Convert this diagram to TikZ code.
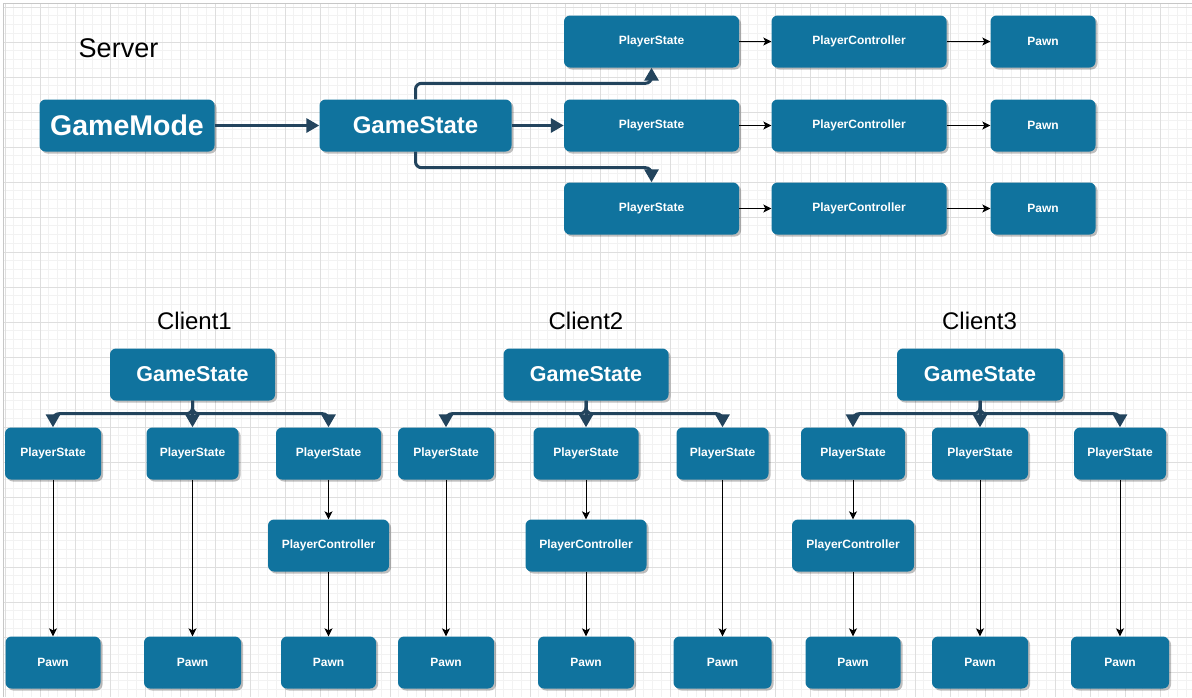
\documentclass[tikz,border=0pt]{standalone}
\usepackage{fontspec}
\setmainfont{Liberation Sans}
\usetikzlibrary{arrows.meta,shadows}

\definecolor{boxblue}{HTML}{10739E}
\definecolor{linkdark}{HTML}{23445D}
\definecolor{minorgrid}{HTML}{F2F2F2}
\definecolor{majorgrid}{HTML}{DEDEDE}

\begin{document}
\begin{tikzpicture}[x=1pt,y=-1pt]


\tikzstyle{block}=[shape=rectangle, rounded corners=6pt,
    fill=boxblue, text=white, align=center,
    minimum height=52pt, inner sep=0pt,
    font=\fontsize{12}{14}\selectfont\bfseries,
    drop shadow={shadow xshift=2pt, shadow yshift=-2pt, fill=black, opacity=0.25}]
\tikzstyle{title}=[anchor=base, font=\fontsize{24}{28}\selectfont]
\tikzstyle{link}=[->, >={Stealth[length=8pt,width=8pt,inset=2pt]}, line width=1pt, black]
\tikzstyle{mainlink}=[->, >={Triangle[length=13pt,width=14pt]}, line width=3pt,
    linkdark, rounded corners=6pt]

  % background grid
  \useasboundingbox (0,0) rectangle (1192,697);
  \fill[white] (0,0) rectangle (1192,697);
  \foreach \gx in {5,13.75,...,1192} \draw[minorgrid, line width=0.7pt] (\gx,3) -- (\gx,697);
  \foreach \gy in {7,15.75,...,697} \draw[minorgrid, line width=0.7pt] (3,\gy) -- (1192,\gy);
  \foreach \gx in {5,40,...,1192} \draw[majorgrid, line width=0.8pt] (\gx,3) -- (\gx,697);
  \foreach \gy in {7,42,...,697} \draw[majorgrid, line width=0.8pt] (3,\gy) -- (1192,\gy);
  \draw[black!22, line width=1pt] (3,697) -- (3,3) -- (1192,3);

  % server
  \node[title, font=\fontsize{27}{30}\selectfont] (server) at (118.5,57) {Server};
  \node[block, minimum width=175, font=\fontsize{28.5}{32}\selectfont\bfseries] (gamemode) at (127,125.5) {GameMode};
  \node[block, minimum width=192, font=\fontsize{24}{28}\selectfont\bfseries] (gamestate) at (415.5,125.5) {GameState};

  \node[block, minimum width=175] (ps1) at (651.5,41.5) {PlayerState};
  \node[block, minimum width=175] (pc1) at (859,41.5) {PlayerController};
  \node[block, minimum width=105] (pawn1) at (1043,41.5) {Pawn};
  \node[block, minimum width=175] (ps2) at (651.5,125.5) {PlayerState};
  \node[block, minimum width=175] (pc2) at (859,125.5) {PlayerController};
  \node[block, minimum width=105] (pawn2) at (1043,125.5) {Pawn};
  \node[block, minimum width=175] (ps3) at (651.5,208.5) {PlayerState};
  \node[block, minimum width=175] (pc3) at (859,208.5) {PlayerController};
  \node[block, minimum width=105] (pawn3) at (1043,208.5) {Pawn};

  \draw[mainlink] (gamemode.east) -- (gamestate.west);
  \draw[mainlink] (gamestate.east) -- (ps2.west);
  \draw[mainlink] (gamestate.north) -- ++(0,-16) -| (ps1.south);
  \draw[mainlink] (gamestate.south) -- ++(0,16) -| (ps3.north);

  \draw[link] (ps1.east) -- (pc1.west);
  \draw[link] (pc1.east) -- (pawn1.west);
  \draw[link] (ps2.east) -- (pc2.west);
  \draw[link] (pc2.east) -- (pawn2.west);
  \draw[link] (ps3.east) -- (pc3.west);
  \draw[link] (pc3.east) -- (pawn3.west);

  % client1
  \node[title] (client1) at (194.5,329) {Client1};
  \node[block, minimum width=165, font=\fontsize{21.5}{26}\selectfont\bfseries] (c1gs) at (192.5,374.5) {GameState};
  \node[block, minimum width=96] (c1ps1) at (53,453.5) {PlayerState};
  \node[block, minimum width=92] (c1ps2) at (192.5,453.5) {PlayerState};
  \node[block, minimum width=105] (c1ps3) at (328.5,453.5) {PlayerState};
  \node[block, minimum width=121] (c1pc) at (328.5,545.5) {PlayerController};
  \node[block, minimum width=95] (c1pawn1) at (53,662.5) {Pawn};
  \node[block, minimum width=97] (c1pawn2) at (192.5,662.5) {Pawn};
  \node[block, minimum width=95] (c1pawn3) at (328.5,662.5) {Pawn};

  \draw[mainlink] (c1gs.south) -- ++(0,13) -| (c1ps1.north);
  \draw[mainlink] (c1gs.south) -- ++(0,13) -| (c1ps3.north);
  \draw[mainlink] (c1gs.south) -- (c1ps2.north);
  \draw[link] (c1ps1) -- (c1pawn1);
  \draw[link] (c1ps2) -- (c1pawn2);
  \draw[link] (c1ps3) -- (c1pc);
  \draw[link] (c1pc) -- (c1pawn3);

  % client2
  \node[title] (client2) at (586,329) {Client2};
  \node[block, minimum width=165, font=\fontsize{21.5}{26}\selectfont\bfseries] (c2gs) at (586,374.5) {GameState};
  \node[block, minimum width=96] (c2ps1) at (446,453.5) {PlayerState};
  \node[block, minimum width=105] (c2ps2) at (586,453.5) {PlayerState};
  \node[block, minimum width=92] (c2ps3) at (722.5,453.5) {PlayerState};
  \node[block, minimum width=121] (c2pc) at (586,545.5) {PlayerController};
  \node[block, minimum width=96] (c2pawn1) at (446,662.5) {Pawn};
  \node[block, minimum width=96] (c2pawn2) at (586,662.5) {Pawn};
  \node[block, minimum width=98] (c2pawn3) at (722.5,662.5) {Pawn};

  \draw[mainlink] (c2gs.south) -- ++(0,13) -| (c2ps1.north);
  \draw[mainlink] (c2gs.south) -- ++(0,13) -| (c2ps3.north);
  \draw[mainlink] (c2gs.south) -- (c2ps2.north);
  \draw[link] (c2ps1) -- (c2pawn1);
  \draw[link] (c2ps2) -- (c2pc);
  \draw[link] (c2pc) -- (c2pawn2);
  \draw[link] (c2ps3) -- (c2pawn3);

  % client3
  \node[title] (client3) at (979.5,329) {Client3};
  \node[block, minimum width=166, font=\fontsize{21.5}{26}\selectfont\bfseries] (c3gs) at (980,374.5) {GameState};
  \node[block, minimum width=104] (c3ps1) at (853,453.5) {PlayerState};
  \node[block, minimum width=96] (c3ps2) at (980,453.5) {PlayerState};
  \node[block, minimum width=92] (c3ps3) at (1120,453.5) {PlayerState};
  \node[block, minimum width=122] (c3pc) at (853,545.5) {PlayerController};
  \node[block, minimum width=95] (c3pawn1) at (853,662.5) {Pawn};
  \node[block, minimum width=96] (c3pawn2) at (980,662.5) {Pawn};
  \node[block, minimum width=98] (c3pawn3) at (1120,662.5) {Pawn};

  \draw[mainlink] (c3gs.south) -- ++(0,13) -| (c3ps1.north);
  \draw[mainlink] (c3gs.south) -- ++(0,13) -| (c3ps3.north);
  \draw[mainlink] (c3gs.south) -- (c3ps2.north);
  \draw[link] (c3ps1) -- (c3pc);
  \draw[link] (c3pc) -- (c3pawn1);
  \draw[link] (c3ps2) -- (c3pawn2);
  \draw[link] (c3ps3) -- (c3pawn3);


\end{tikzpicture}
\end{document}
